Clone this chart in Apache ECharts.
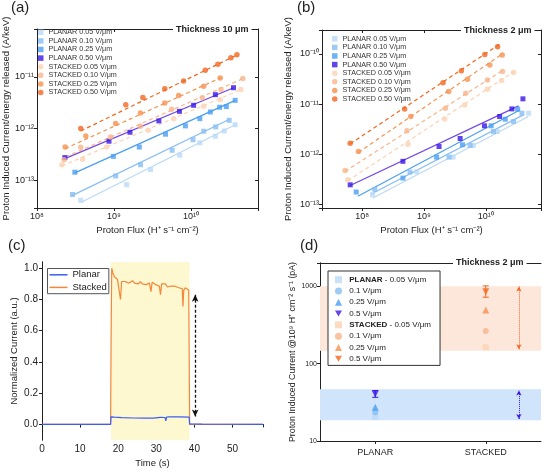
<!DOCTYPE html>
<html><head><meta charset="utf-8">
<script src="https://cdn.jsdelivr.net/npm/echarts@6/dist/echarts.min.js"></script>
<style>html,body{margin:0;padding:0;background:#fff}#c{width:546px;height:474px}</style>
</head><body><div id="c"></div><script>
// ---------- Panel (a): Thickness 10 µm ----------
const a_x_P005 = [3.7e8, 1.46e9, 2.98e9, 7.13e9, 1.3e10, 2.07e10, 2.7e10, 3.74e10];
const a_y_P005 = [4.1e-14, 8.2e-14, 1.61e-13, 3.05e-13, 5.3e-13, 7.1e-13, 9.0e-13, 1.19e-12];
const a_x_P010 = [2.89e8, 1.05e9, 2.21e9, 5.68e9, 1.06e10, 1.46e10, 2.09e10, 3.13e10];
const a_y_P010 = [5.3e-14, 1.21e-13, 2.0e-13, 3.81e-13, 6.1e-13, 8.9e-13, 1.08e-12, 1.45e-12];
const a_x_P025 = [3.1e8, 9.8e8, 2.13e9, 4.66e9, 8.45e9, 1.3e10, 1.78e10, 2.35e10, 2.87e10, 3.74e10];
const a_y_P025 = [1.43e-13, 2.9e-13, 4.4e-13, 7.8e-13, 1.13e-12, 1.56e-12, 2.1e-12, 2.59e-12, 2.67e-12, 3.53e-12];
const a_x_P050 = [2.3e8, 8.6e8, 1.61e9, 3.82e9, 7.07e9, 1.08e10, 2.07e10, 3.56e10];
const a_y_P050 = [2.75e-13, 5.7e-13, 8.5e-13, 1.41e-12, 2.16e-12, 2.83e-12, 4.55e-12, 6.2e-12];
const a_x_S005 = [2.1e8, 3.9e8, 8.0e8, 2.78e9, 5.97e9, 1.46e10, 2.39e10, 4.43e10];
const a_y_S005 = [2.0e-13, 2.55e-13, 4.4e-13, 9.3e-13, 1.56e-12, 2.7e-12, 3.64e-12, 5.7e-12];
const a_x_S010 = [2.25e8, 3.7e8, 9.0e8, 2.2e9, 5.6e9, 1.4e10, 2.45e10, 4.7e10];
const a_y_S010 = [2.5e-13, 4.35e-13, 6.9e-13, 1.11e-12, 2.37e-12, 3.98e-12, 5.7e-12, 9.3e-12];
const a_x_S025 = [2.32e8, 4.3e8, 1.05e9, 2.2e9, 4.56e9, 6.9e9, 1.46e10, 2.39e10];
const a_y_S025 = [4.4e-13, 7.2e-13, 1.25e-12, 2.0e-12, 3.14e-12, 4.4e-12, 6.6e-12, 9.6e-12];
const a_x_S050 = [3.7e8, 1.42e9, 2.37e9, 4.56e9, 8.0e9, 1.53e10, 2.23e10, 3.29e10, 3.94e10];
const a_y_S050 = [1.0e-12, 2.9e-12, 4.0e-12, 5.9e-12, 8.4e-12, 1.35e-11, 1.76e-11, 2.37e-11, 2.7e-11];
const a_fit_P005 = [[3.7e8, 3.7e-14], [3.74e10, 1.19e-12]];
const a_fit_P010 = [[2.89e8, 5.1e-14], [3.16e10, 1.52e-12]];
const a_fit_P025 = [[3.1e8, 1.39e-13], [3.74e10, 3.53e-12]];
const a_fit_P050 = [[2.3e8, 2.62e-13], [3.56e10, 6.2e-12]];
const a_fit_S005 = [[2.1e8, 1.89e-13], [4.43e10, 5.7e-12]];
const a_fit_S010 = [[2.37e8, 2.83e-13], [4.7e10, 9.3e-12]];
const a_fit_S025 = [[2.32e8, 4.1e-13], [2.44e10, 9.7e-12]];
const a_fit_S050 = [[3.7e8, 9.0e-13], [4.01e10, 2.7e-11]];

// ---------- Panel (b): Thickness 2 µm ----------
const b_x_P005 = [1.47e8, 7.6e8, 2.95e9, 6.23e9, 1.53e10, 4.92e10];
const b_y_P005 = [1.58e-13, 4.53e-13, 8.85e-13, 1.51e-12, 2.86e-12, 6.62e-12];
const b_x_P010 = [1.6e8, 5.93e8, 2.54e9, 5.57e9, 1.33e10, 2.81e10, 3.84e10];
const b_y_P010 = [2.02e-13, 4.46e-13, 8.85e-13, 1.51e-12, 2.86e-12, 4.53e-12, 6.62e-12];
const b_x_P025 = [8.0e7, 4.56e8, 1.6e9, 4.19e9, 1.22e10, 2.06e10, 3.27e10];
const b_y_P025 = [1.79e-13, 3.39e-13, 8.85e-13, 1.56e-12, 3.72e-12, 5.04e-12, 7.96e-12];
const b_x_P050 = [6.4e7, 4.56e8, 1.75e9, 3.84e9, 9.5e9, 1.67e10, 2.64e10, 3.98e10];
const b_y_P050 = [2.49e-13, 7.3e-13, 1.44e-12, 2.08e-12, 3.72e-12, 5.69e-12, 8.07e-12, 1.28e-11];
const b_x_S005 = [5.86e7, 5.5e8, 2.16e9, 4.56e9, 1.06e10, 1.8e10, 2.81e10];
const b_y_S005 = [3.14e-13, 1.6e-12, 5.1e-12, 9.7e-12, 1.99e-11, 2.95e-11, 4.26e-11];
const b_x_S010 = [5.3e7, 5.3e8, 2.22e9, 4.74e9, 1.06e10, 1.86e10];
const b_y_S010 = [4.8e-13, 2.95e-12, 8.3e-12, 1.66e-11, 3.04e-11, 4.46e-11];
const b_x_S025 = [8.7e7, 6.1e8, 2.51e9, 5.05e9, 1.16e10, 1.84e10];
const b_y_S025 = [1.15e-12, 5.7e-12, 1.79e-11, 3.14e-11, 6.04e-11, 9.56e-11];
const b_x_S050 = [6.4e7, 4.86e8, 2.03e9, 4.03e9, 9.63e9, 1.55e10];
const b_y_S050 = [1.68e-12, 8.07e-12, 2.69e-11, 4.66e-11, 9.8e-11, 1.4e-10];
const b_fit_P005 = [[1.49e8, 1.36e-13], [4.86e10, 5.69e-12]];
const b_fit_P010 = [[1.4e8, 1.63e-13], [4.03e10, 6.14e-12]];
const b_fit_P025 = [[8.5e7, 1.47e-13], [3.56e10, 7.7e-12]];
const b_fit_P050 = [[6.4e7, 2.42e-13], [3.39e10, 9.27e-12]];
const b_fit_S005 = [[5.86e7, 3.0e-13], [2.84e10, 4.46e-11]];
const b_fit_S010 = [[5.3e7, 4.6e-13], [1.91e10, 4.8e-11]];
const b_fit_S025 = [[8.7e7, 1.1e-12], [1.91e10, 1.03e-10]];
const b_fit_S050 = [[6.4e7, 1.63e-12], [1.69e10, 1.58e-10]];

// ---------- Panel (c): normalized current vs time ----------
const c_stacked = [[0,0],[18.0,0],[18.15,0.6],[18.3,1.0],[18.6,0.97],[19.0,0.945],[19.4,0.935],[19.8,0.93],[20.3,0.925],[20.6,0.80],[20.9,0.915],[21.3,0.925],[21.8,0.915],[22.3,0.92],[22.8,0.905],[23.3,0.915],[23.8,0.92],[24.3,0.905],[24.8,0.91],[25.3,0.9],[25.8,0.915],[26.3,0.9],[26.8,0.905],[27.3,0.895],[27.8,0.9],[28.2,0.905],[28.6,0.85],[28.9,0.91],[29.4,0.905],[29.9,0.895],[30.4,0.9],[30.8,0.885],[31.1,0.83],[31.4,0.9],[31.9,0.89],[32.4,0.9],[32.9,0.88],[33.4,0.89],[33.9,0.885],[34.4,0.875],[34.9,0.885],[35.4,0.89],[35.9,0.875],[36.4,0.88],[36.8,0.87],[37.0,0.755],[37.2,0.86],[37.6,0.875],[38.0,0.87],[38.5,0.86],[38.7,0.86],[38.75,0],[58,0]];
const c_planar = [[0,0],[18.0,0],[18.1,0.048],[19,0.046],[21,0.043],[24,0.041],[27,0.04],[29.3,0.04],[29.6,0.045],[31,0.045],[32.3,0.044],[32.5,0.022],[32.7,0.046],[33.5,0.049],[36,0.048],[38.6,0.047],[38.75,0.003],[42,0.002],[48,0.001],[58,0]];
const c_pulse = [18.1, 38.7];
const c_arrow = [[40.2, 0.83], [40.2, 0.05]];

// ---------- Panel (d): current @1e9 flux ----------
const d_cats = ['PLANAR', 'STACKED'];
const d_catPos = [1, 3];
const d_planar = [20.5, 23.5, 27.3, 40.6];     // 0.05, 0.1, 0.25, 0.5 V/µm
const d_stacked = [163, 265, 495, 853];
const d_errPlanar = [[1, 36.7, 44.9]];
const d_errStacked = [[3, 722, 1012]];
const d_bandPlanar = [18.5, 46.7];
const d_bandStacked = [147, 1000];
const d_arrowPos = 3.6;
const d_arrowPlanar = [19.3, 44.8];
const d_arrowStacked = [153, 995];

const FONT = 'Liberation Sans, Arial, Helvetica, sans-serif';
const AX = '#222';
const C = {P005:'#b9d9f7', P010:'#86bef3', P025:'#4a9ff0', P050:'#3a16e6', P050L:'#7048e6',
           S005:'#fcd2b4', S010:'#f9b48a', S025:'#f6914f', S050:'#f2661f'};
const SUP = {'-':'⁻','0':'⁰','1':'¹','2':'²','3':'³','4':'⁴','5':'⁵','6':'⁶','7':'⁷','8':'⁸','9':'⁹'};
function pow10Label(v){ const e = Math.log10(v), r = Math.round(e); if (Math.abs(e-r) > 1e-6) return ''; return '10' + String(r).split('').map(c=>SUP[c]).join(''); }
function plainLog(v){ const e = Math.log10(v), r = Math.round(e); return Math.abs(e-r) > 1e-6 ? '' : String(Math.round(v)); }

const NAMES = ['PLANAR 0.05 V/μm','PLANAR 0.10 V/μm','PLANAR 0.25 V/μm','PLANAR 0.50 V/μm',
               'STACKED 0.05 V/μm','STACKED 0.10 V/μm','STACKED 0.25 V/μm','STACKED 0.50 V/μm'];
const DOWN = 'path://M0,0L2,0L1,1.732Z';

function line(c){ return {lineStyle:{color:c, width:1}}; }
function mainAxis(gi, type, min, max, pos, extra){
  return Object.assign({gridIndex:gi, type, min, max, position:pos, axisLine:line(AX),
    axisTick:{show:true, inside:false, length:3, lineStyle:{color:AX}},
    axisLabel:{color:'#222', fontSize:9}, splitLine:{show:false}}, extra || {});
}
function mirrorAxis(gi, type, min, max, pos, extra){
  return Object.assign({gridIndex:gi, type, min, max, position:pos, axisLine:line(AX),
    axisTick:{show:true, inside:true, length:3, lineStyle:{color:AX}},
    axisLabel:{show:false}, splitLine:{show:false}}, extra || {});
}

const xAxis = [
  mainAxis(0,'log',1e8,7.4e10,'bottom',{axisLabel:{color:'#222',fontSize:9,margin:4,formatter:pow10Label},
    name:'Proton Flux (H⁺ s⁻¹ cm⁻²)', nameLocation:'middle', nameGap:17, nameTextStyle:{fontSize:9.5,color:'#222'}}),
  mirrorAxis(0,'log',1e8,7.4e10,'top'),
  mainAxis(1,'log',2.24e7,7.8e10,'bottom',{axisLabel:{color:'#222',fontSize:9,margin:4,formatter:pow10Label},
    name:'Proton Flux (H⁺ s⁻¹ cm⁻²)', nameLocation:'middle', nameGap:17, nameTextStyle:{fontSize:9.5,color:'#222'}}),
  mirrorAxis(1,'log',2.24e7,7.8e10,'top'),
  mainAxis(2,'value',0,58,'bottom',{interval:10, axisLabel:{color:'#222',fontSize:10,margin:4,showMaxLabel:false},
    name:'Time (s)', nameLocation:'middle', nameGap:18, nameTextStyle:{fontSize:9.5,color:'#222'}}),
  mirrorAxis(2,'value',0,58,'top',{interval:10}),
  mainAxis(3,'value',0,4,'bottom',{axisLabel:{color:'#222',fontSize:9,margin:7,customValues:d_catPos,
      formatter:v=>d_cats[d_catPos.indexOf(Math.round(v))] || ''},
    axisTick:{show:true, inside:false, length:3, lineStyle:{color:AX}, customValues:d_catPos}}),
  mirrorAxis(3,'value',0,4,'top',{axisTick:{show:false}})
];
const yAxis = [
  mainAxis(0,'log',2.9e-14,8.5e-11,'left',{axisLabel:{color:'#222',fontSize:9,margin:3,formatter:pow10Label},
    name:'Proton Induced Current/energy released (A/keV)', nameLocation:'middle', nameGap:26, nameTextStyle:{fontSize:9.5,color:'#222'}}),
  mirrorAxis(0,'log',2.9e-14,8.5e-11,'right'),
  mainAxis(1,'log',8.6e-14,3.0e-10,'left',{axisLabel:{color:'#222',fontSize:9,margin:3,formatter:pow10Label},
    name:'Proton Induced Current/energy released (A/keV)', nameLocation:'middle', nameGap:29, nameTextStyle:{fontSize:9.5,color:'#222'}}),
  mirrorAxis(1,'log',8.6e-14,3.0e-10,'right'),
  mainAxis(2,'value',-0.1,1.04,'left',{axisLabel:{color:'#222',fontSize:10,margin:4,customValues:[0,0.2,0.4,0.6,0.8,1.0],formatter:v=>v.toFixed(1)},
    axisTick:{show:true, inside:false, length:3, lineStyle:{color:AX}, customValues:[0,0.2,0.4,0.6,0.8,1.0]},
    name:'Normalized Current (a.u.)', nameLocation:'middle', nameGap:23, nameTextStyle:{fontSize:9.5,color:'#222'}}),
  mirrorAxis(2,'value',-0.1,1.04,'right',{axisTick:{show:true, inside:true, length:3, lineStyle:{color:AX}, customValues:[0,0.2,0.4,0.6,0.8,1.0]}}),
  mainAxis(3,'log',10,2000,'left',{axisLabel:{color:'#222',fontSize:7,margin:3,formatter:plainLog},
    name:'Proton Induced Current @10⁹ H⁺ cm⁻² s⁻¹ (pA)', nameLocation:'middle', nameGap:21, nameTextStyle:{fontSize:8.8,color:'#222'}}),
  mirrorAxis(3,'log',10,2000,'right')
];

function sc(name, xs, ys, gi, sym, color, size){
  return {name, type:'scatter', xAxisIndex:gi*2, yAxisIndex:gi*2, symbol:sym, symbolSize:size,
    itemStyle:{color}, data:xs.map((x,i)=>[x, ys[i]]), z:4, silent:true};
}
function fit(pts, gi, color, dashed){
  return {type:'line', xAxisIndex:gi*2, yAxisIndex:gi*2, data:pts, symbol:'none', silent:true, z:3,
    lineStyle:{color, width:1.2, type: dashed ? [4,3] : 'solid'}};
}

const series = [];
// (a)
series.push(fit(a_fit_P005,0,C.P005,false), fit(a_fit_P010,0,C.P010,false), fit(a_fit_P025,0,C.P025,false), fit(a_fit_P050,0,C.P050L,false),
            fit(a_fit_S005,0,C.S005,true), fit(a_fit_S010,0,C.S010,true), fit(a_fit_S025,0,C.S025,true), fit(a_fit_S050,0,C.S050,true));
series.push(sc(NAMES[0],a_x_P005,a_y_P005,0,'rect',C.P005,5), sc(NAMES[1],a_x_P010,a_y_P010,0,'rect',C.P010,5),
            sc(NAMES[2],a_x_P025,a_y_P025,0,'rect',C.P025,5), sc(NAMES[3],a_x_P050,a_y_P050,0,'rect',C.P050,5),
            sc(NAMES[4],a_x_S005,a_y_S005,0,'circle',C.S005,5.5), sc(NAMES[5],a_x_S010,a_y_S010,0,'circle',C.S010,5.5),
            sc(NAMES[6],a_x_S025,a_y_S025,0,'circle',C.S025,5.5), sc(NAMES[7],a_x_S050,a_y_S050,0,'circle',C.S050,5.5));
// (b)
series.push(fit(b_fit_P005,1,C.P005,false), fit(b_fit_P010,1,C.P010,false), fit(b_fit_P025,1,C.P025,false), fit(b_fit_P050,1,C.P050L,false),
            fit(b_fit_S005,1,C.S005,true), fit(b_fit_S010,1,C.S010,true), fit(b_fit_S025,1,C.S025,true), fit(b_fit_S050,1,C.S050,true));
series.push(sc(NAMES[0],b_x_P005,b_y_P005,1,'rect',C.P005,5), sc(NAMES[1],b_x_P010,b_y_P010,1,'rect',C.P010,5),
            sc(NAMES[2],b_x_P025,b_y_P025,1,'rect',C.P025,5), sc(NAMES[3],b_x_P050,b_y_P050,1,'rect',C.P050,5),
            sc(NAMES[4],b_x_S005,b_y_S005,1,'circle',C.S005,5.5), sc(NAMES[5],b_x_S010,b_y_S010,1,'circle',C.S010,5.5),
            sc(NAMES[6],b_x_S025,b_y_S025,1,'circle',C.S025,5.5), sc(NAMES[7],b_x_S050,b_y_S050,1,'circle',C.S050,5.5));
// (c)
series.push({type:'line', xAxisIndex:4, yAxisIndex:4, data:[], silent:true, z:1,
  markArea:{silent:true, itemStyle:{color:'#fdf8cf'}, data:[[{xAxis:c_pulse[0]},{xAxis:c_pulse[1]}]]}});
series.push({name:'Stacked', type:'line', xAxisIndex:4, yAxisIndex:4, data:c_stacked, symbol:'none', showSymbol:false, silent:true, z:3,
  lineStyle:{color:'#f5873a', width:1.2}, itemStyle:{color:'#f5873a'},
  markLine:{silent:true, symbol:['arrow','arrow'], symbolSize:[5,7], label:{show:false},
    lineStyle:{color:'#111', type:[3,2], width:1.3}, data:[[{coord:c_arrow[0]},{coord:c_arrow[1]}]]}});
series.push({name:'Planar', type:'line', xAxisIndex:4, yAxisIndex:4, data:c_planar, symbol:'none', showSymbol:false, silent:true, z:4,
  lineStyle:{color:'#3d5ef2', width:1.2}, itemStyle:{color:'#3d5ef2'}});
// (d)
series.push({type:'line', xAxisIndex:6, yAxisIndex:6, data:[], silent:true, z:1,
  markArea:{silent:true, data:[
    [{yAxis:d_bandPlanar[0], itemStyle:{color:'#d0e4fb'}},{yAxis:d_bandPlanar[1]}],
    [{yAxis:d_bandStacked[0], itemStyle:{color:'#fde7da'}},{yAxis:d_bandStacked[1]}]]}});
series.push({type:'line', xAxisIndex:6, yAxisIndex:6, data:[], silent:true, z:2,
  markLine:{silent:true, symbol:['arrow','arrow'], symbolSize:[4,5], label:{show:false}, data:[
    [{coord:[d_arrowPos,d_arrowStacked[0]], lineStyle:{color:'#f2661f', type:'dotted', width:1}},{coord:[d_arrowPos,d_arrowStacked[1]]}],
    [{coord:[d_arrowPos,d_arrowPlanar[0]], lineStyle:{color:'#3a16e6', type:'dotted', width:1}},{coord:[d_arrowPos,d_arrowPlanar[1]]}]]}});
function errSeries(data, color){
  return {type:'custom', xAxisIndex:6, yAxisIndex:6, data, silent:true, z:3, encode:{x:0, y:[1,2]},
    renderItem:(params, api)=>{
      const x = api.value(0), lo = api.coord([x, api.value(1)]), hi = api.coord([x, api.value(2)]), w = 3;
      const st = {stroke:color, lineWidth:1};
      return {type:'group', children:[
        {type:'line', shape:{x1:lo[0],y1:lo[1],x2:hi[0],y2:hi[1]}, style:st},
        {type:'line', shape:{x1:lo[0]-w,y1:lo[1],x2:lo[0]+w,y2:lo[1]}, style:st},
        {type:'line', shape:{x1:hi[0]-w,y1:hi[1],x2:hi[0]+w,y2:hi[1]}, style:st}]};
    }};
}
series.push(errSeries(d_errPlanar, C.P050), errSeries(d_errStacked, C.S050));
const dSyms = ['rect','circle','triangle',DOWN];
const dSize = [6,6,7,7];
const dPC = [C.P005, C.P010, C.P025, C.P050];
const dSC = [C.S005, C.S010, C.S025, C.S050];
const dNames = ['dP0','dP1','dP2','dP3','dS0','dS1','dS2','dS3'];
const dText = {dP0:' {b|PLANAR} - 0.05 V/μm', dP1:' 0.1 V/μm', dP2:' 0.25 V/μm', dP3:' 0.5 V/μm',
               dS0:' {b|STACKED} - 0.05 V/μm', dS1:' 0.1 V/μm', dS2:' 0.25 V/μm', dS3:' 0.5 V/μm'};
for (let i=0;i<4;i++){
  series.push({name:dNames[i], type:'scatter', xAxisIndex:6, yAxisIndex:6, symbol:dSyms[i], symbolSize:dSize[i],
    itemStyle:{color:dPC[i]}, data:[[d_catPos[0], d_planar[i]]], z:4, silent:true});
}
for (let i=0;i<4;i++){
  series.push({name:dNames[4+i], type:'scatter', xAxisIndex:6, yAxisIndex:6, symbol:dSyms[i], symbolSize:dSize[i],
    itemStyle:{color:dSC[i]}, data:[[d_catPos[1], d_stacked[i]]], z:4, silent:true});
}

const thick = {fontSize:9, fontWeight:'bold', color:'#222'};
const letter = {fontSize:15, fontWeight:'normal', color:'#222'};
const option = {
  animation:false,
  backgroundColor:'#fff',
  textStyle:{fontFamily:FONT},
  title:[
    {text:'(a)', left:11, top:0, padding:0, textStyle:letter},
    {text:'(b)', left:297, top:0, padding:0, textStyle:letter},
    {text:'(c)', left:8, top:238, padding:0, textStyle:letter},
    {text:'(d)', left:300, top:238, padding:0, textStyle:letter},
    {text:'Thickness 10 μm', left:173, top:24, padding:[1,3], backgroundColor:'#fff', textStyle:thick},
    {text:'Thickness 2 μm', left:461, top:25, padding:[1,3], backgroundColor:'#fff', textStyle:thick},
    {text:'Thickness 2 μm', left:453, top:257, padding:[1,3], backgroundColor:'#fff', textStyle:thick}
  ],
  grid:[
    {left:36, top:29, width:222, height:179},
    {left:322, top:30, width:219, height:178},
    {left:42, top:262, width:221, height:178},
    {left:320, top:263, width:221, height:178}
  ],
  legend:[
    {left:38, top:28, orient:'vertical', selectedMode:false, itemWidth:5.5, itemHeight:5.5, itemGap:0, padding:0,
     textStyle:{fontSize:7.2, lineHeight:8.6, color:'#333'}, data:NAMES},
    {left:332, top:34.5, orient:'vertical', selectedMode:false, itemWidth:5.5, itemHeight:5.5, itemGap:0, padding:0,
     textStyle:{fontSize:7.2, lineHeight:8.6, color:'#333'}, data:NAMES},
    {left:47.5, top:268.5, orient:'vertical', selectedMode:false, icon:'rect', itemWidth:18, itemHeight:1.5, itemGap:0, padding:[0,2,0,2],
     borderColor:'#555', borderWidth:1, backgroundColor:'#fff',
     textStyle:{fontSize:9.5, lineHeight:12.6, color:'#222'}, data:['Planar','Stacked']},
    {left:328, top:271, orient:'vertical', selectedMode:false, itemWidth:7, itemHeight:7, itemGap:0, padding:[3,9,1,7],
     borderColor:'#333', borderWidth:1, backgroundColor:'#fff',
     textStyle:{fontSize:8, lineHeight:11.3, color:'#222', rich:{b:{fontSize:8, fontWeight:'bold', color:'#222'}}},
     formatter:n=>dText[n], data:dNames}
  ],
  xAxis, yAxis, series
};
const chart = echarts.init(document.getElementById('c'), null, {renderer:'canvas'});
chart.setOption(option);
</script></body></html>
